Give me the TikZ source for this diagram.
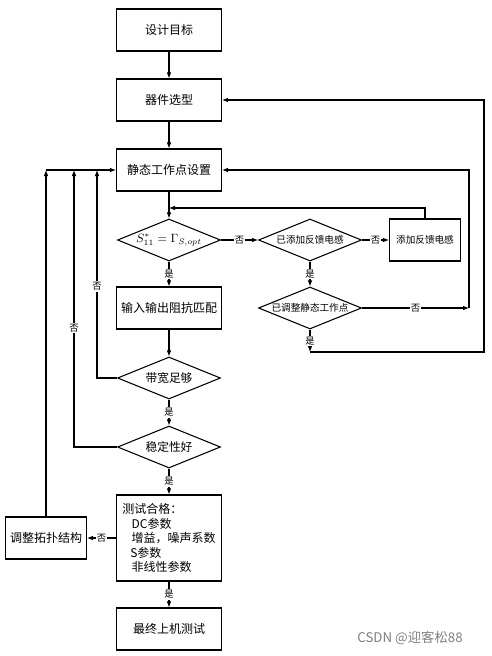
\documentclass[tikz,border=0pt]{standalone}
\usepackage{fontspec}
\newfontfamily\cjk{Noto Sans CJK SC}
\usetikzlibrary{shapes.geometric,arrows.meta}

\begin{document}
\begin{tikzpicture}[x=.75pt, y=-.75pt, line width=.8pt,
   flow/.style={-{Latex[length=4.5pt,width=3.5pt]}},
   stepbox/.style={draw, minimum width=78.75pt, minimum height=31.5pt, inner sep=1pt, font=\cjk\fontsize{9}{11}\selectfont},
   smallbox/.style={draw, minimum width=53.25pt, minimum height=31.5pt, inner sep=1pt, font=\cjk\fontsize{7.2}{9}\selectfont},
   test/.style={diamond, draw, aspect=2.5, inner sep=0pt, minimum width=77.25pt, minimum height=31.5pt, font=\cjk\fontsize{8.8}{10}\selectfont},
   smalltest/.style={test, font=\cjk\fontsize{7.2}{9}\selectfont},
   answer/.style={fill=white, inner sep=.8pt, font=\cjk\fontsize{7}{8}\selectfont}]
\useasboundingbox (0,0) rectangle (492,656);

% main column
\node[stepbox] (goal) at (169,30) {设计目标};
\node[stepbox] (select) at (169,100) {器件选型};
\node[stepbox] (bias) at (169,170) {静态工作点设置};
\node[test, font=\fontsize{9}{11}\selectfont] (match?) at (169,240) {$S_{11}^{*}=\Gamma_{S,opt}$};
\node[stepbox] (match) at (169,308) {输入输出阻抗匹配};
\node[test] (bw) at (169,378) {带宽足够};
\node[test] (stab) at (169,447) {稳定性好};
\node[stepbox, minimum height=64.5pt, align=left, font=\cjk\fontsize{9}{10.9}\selectfont] (check) at (169,538)
   {测试合格：\\\hspace*{7pt}DC参数\\\hspace*{7pt}增益，噪声系数\\\hspace*{6pt}S参数\\\hspace*{7pt}非线性参数};
\node[stepbox] (final) at (169,629) {最终上机测试};
\node[stepbox, minimum width=60.75pt] (topo) at (46,538) {调整拓扑结构};

% right branch
\node[smalltest] (fbdone) at (310,240) {已添加反馈电感};
\node[smallbox] (fb) at (425,240) {添加反馈电感};
\node[smalltest] (biasdone) at (310,308) {已调整静态工作点};

\coordinate (j0) at (169,208);
\coordinate (r1) at (469,308);
\coordinate (r2) at (310,352);
\coordinate (r3) at (484,352);
\coordinate (l1) at (97,170);
\coordinate (l2) at (74,170);
\coordinate (l3) at (46,170);

\draw[flow] (goal) -- (select);
\draw[flow] (select) -- (bias);
\draw[flow] (bias) -- (match?);
\draw[flow] (match?) -- node[answer]{是} (match);
\draw[flow] (match?) -- node[answer]{否} (fbdone);
\draw[flow] (fbdone) -- node[answer]{否} (fb);
\draw[flow] (fb.north) |- (j0);
\draw[flow] (fbdone) -- node[answer]{是} (biasdone);
\draw[flow] (biasdone.east) -- node[answer]{否} (r1);
\draw[flow] (r1) |- (bias.east);
\draw[flow] (biasdone.south) -- node[answer]{是} (r2);
\draw[flow] (r2) -- (r3) |- (select.east);

\draw[flow] (match) -- (bw);
\draw[flow] (bw) -- node[answer]{是} (stab);
\draw[flow] (stab) -- node[answer]{是} (check);
\draw[flow] (check) -- node[answer]{是} (final);
\draw[flow] (check) -- node[answer]{否} (topo);

% left loops
\draw[flow] (bw.west) -| node[answer, pos=.72]{否} (l1);
\draw[flow] (stab.west) -| node[answer, pos=.715]{否} (l2);
\draw[flow] (topo.north) -- (l3);
\draw[flow] (l3) -- (bias.west);

\node[gray, font=\cjk\fontsize{10}{12}\selectfont] (mark) at (410,638) {CSDN @迎客松88};
\end{tikzpicture}
\end{document}
